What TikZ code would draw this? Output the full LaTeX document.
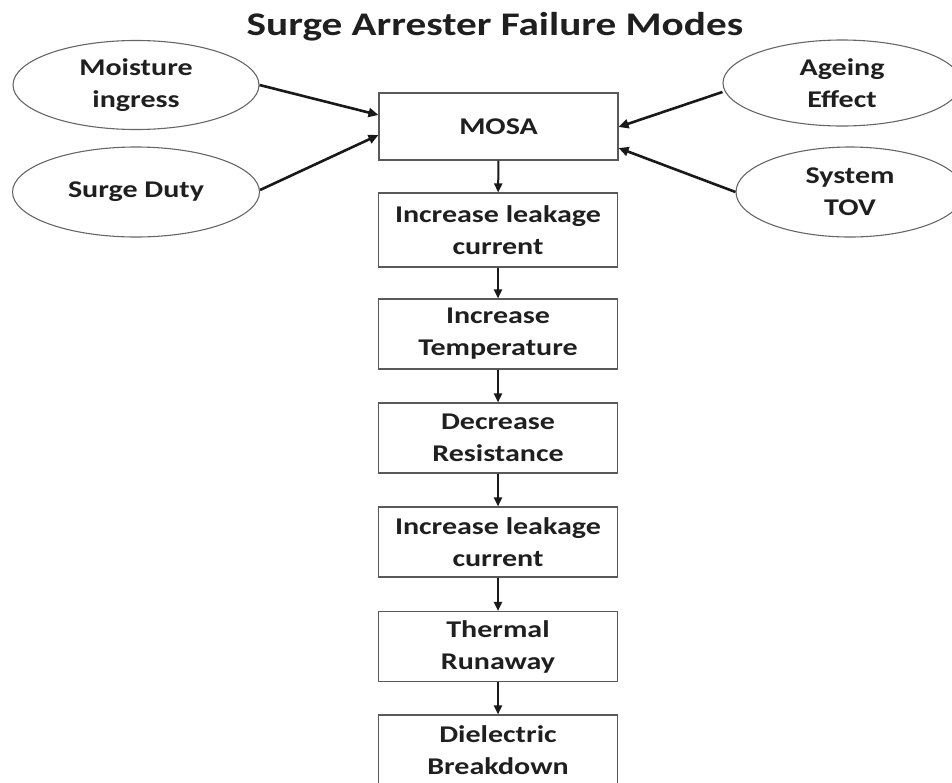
\documentclass[tikz,border=0pt]{standalone}
\usepackage{fontspec}
\setmainfont{Carlito}[FakeStretch=1.25]
\usetikzlibrary{arrows.meta,shapes.geometric}
\begin{document}
\begin{tikzpicture}[x=1pt,y=-1pt,
  txt/.style={font=\bfseries\fontsize{24}{32}\selectfont, text=black!88, align=center},
  box/.style={txt, draw=black!65, line width=1.1pt, minimum width=239pt, minimum height=70pt, inner sep=0pt},
  oval/.style={txt, ellipse, draw=black!60, line width=1.1pt, inner sep=0pt},
  varrow/.style={draw=black!90, line width=2pt, -{Triangle[length=9pt,width=8pt]}},
  earrow/.style={draw=black!90, line width=2.6pt, -{Triangle[length=10pt,width=9pt]}}]
\useasboundingbox (0,0) rectangle (952,782);
\node[anchor=base, font=\bfseries\fontsize{33}{40}\selectfont, text=black!88] (title) at (495,35) {Surge Arrester Failure Modes};

\node[box, minimum height=67pt] (mosa) at (498.5,126.5) {MOSA};
\node[box, minimum height=74pt] (b2) at (498,230) {Increase leakage\\current};
\node[box] (b3) at (498,334) {Increase\\Temperature};
\node[box] (b4) at (498,438) {Decrease\\Resistance};
\node[box] (b5) at (498,542) {Increase leakage\\current};
\node[box] (b6) at (498,646.5) {Thermal\\Runaway};
\node[box] (b7) at (498,750) {Dielectric\\Breakdown};

\node[oval, minimum width=246pt, minimum height=89pt] (moist) at (136,85) {Moisture\\ingress};
\node[oval, minimum width=247pt, minimum height=90pt] (surge) at (136,192) {Surge Duty};
\node[oval, minimum width=238pt, minimum height=86pt] (age) at (842,83) {Ageing\\Effect};
\node[oval, minimum width=228pt, minimum height=90pt] (tov) at (850,192) {System\\TOV};

\draw[varrow] (mosa) -- (b2);
\draw[varrow] (b2) -- (b3);
\draw[varrow] (b3) -- (b4);
\draw[varrow] (b4) -- (b5);
\draw[varrow] (b5) -- (b6);
\draw[varrow] (b6) -- (b7);

\draw[earrow] (moist.east) -- ([yshift=11.5pt]mosa.west);
\draw[earrow] ([yshift=2pt]surge.east) -- ([yshift=-8.5pt]mosa.west);
\draw[earrow] ([yshift=-9pt]age.west) -- ([yshift=-0.5pt]mosa.east);
\draw[earrow] (tov.west) -- ([yshift=-21.5pt]mosa.east);
\end{tikzpicture}
\end{document}
